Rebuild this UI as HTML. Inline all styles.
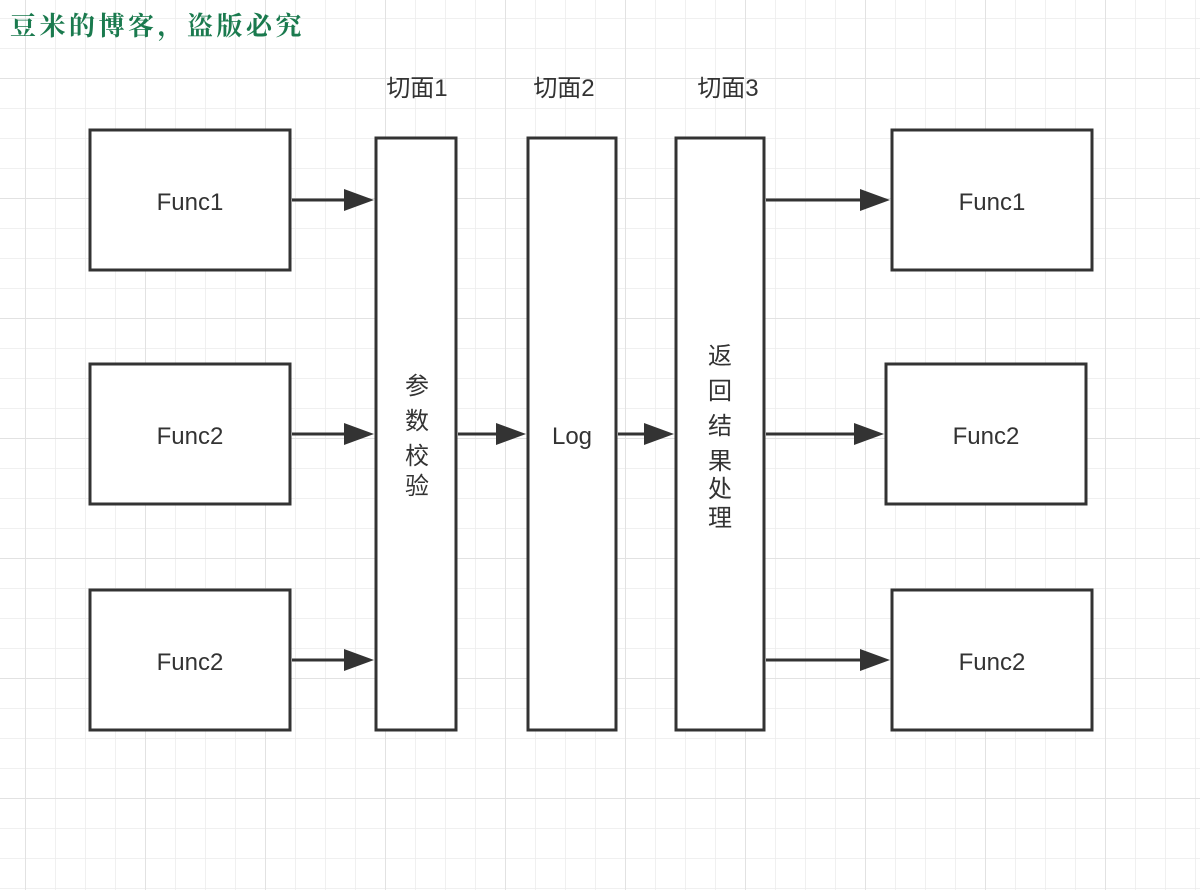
<!DOCTYPE html>
<html><head><meta charset="utf-8"><style>
body{margin:0;width:1200px;height:890px;overflow:hidden;background:#fff;}
</style></head><body>
<svg width="1200" height="890" xmlns="http://www.w3.org/2000/svg" font-family="Liberation Sans, Noto Sans CJK SC, sans-serif">
<defs>
<pattern id="g" x="25" y="18" width="30" height="30" patternUnits="userSpaceOnUse">
<path d="M0 0H30M0 0V30" stroke="#ececec" stroke-width="1.5" fill="none"/>
</pattern>
<pattern id="G" x="25" y="78" width="120" height="120" patternUnits="userSpaceOnUse">
<path d="M0 0H120M0 0V120" stroke="#e2e2e2" stroke-width="2" fill="none"/>
</pattern>
</defs>
<rect width="1200" height="890" fill="url(#g)"/>
<rect width="1200" height="890" fill="url(#G)"/>
<text x="10" y="35" font-family="Noto Serif CJK SC, serif" font-weight="bold" font-size="26" fill="#1a7a4e" letter-spacing="3.5">豆米的博客，盗版必究</text>
<g fill="#fff" stroke="#333" stroke-width="3">
<rect x="90" y="130" width="200" height="140"/>
<rect x="90" y="364" width="200" height="140"/>
<rect x="90" y="590" width="200" height="140"/>
<rect x="376" y="138" width="80" height="592"/>
<rect x="528" y="138" width="88" height="592"/>
<rect x="676" y="138" width="88" height="592"/>
<rect x="892" y="130" width="200" height="140"/>
<rect x="886" y="364" width="200" height="140"/>
<rect x="892" y="590" width="200" height="140"/>
</g>
<g stroke="#333" stroke-width="3">
<line x1="292" y1="200" x2="350" y2="200"/>
<line x1="292" y1="434" x2="350" y2="434"/>
<line x1="292" y1="660" x2="350" y2="660"/>
<line x1="458" y1="434" x2="500" y2="434"/>
<line x1="618" y1="434" x2="648" y2="434"/>
<line x1="766" y1="200" x2="864" y2="200"/>
<line x1="766" y1="434" x2="858" y2="434"/>
<line x1="766" y1="660" x2="864" y2="660"/>
</g>
<g fill="#333">
<polygon points="344,189 374,200 344,211"/>
<polygon points="344,423 374,434 344,445"/>
<polygon points="344,649 374,660 344,671"/>
<polygon points="496,423 526,434 496,445"/>
<polygon points="644,423 674,434 644,445"/>
<polygon points="860,189 890,200 860,211"/>
<polygon points="854,423 884,434 854,445"/>
<polygon points="860,649 890,660 860,671"/>
</g>
<g font-size="24" fill="#333" text-anchor="middle">
<text x="190" y="210">Func1</text>
<text x="190" y="444">Func2</text>
<text x="190" y="670">Func2</text>
<text x="992" y="210">Func1</text>
<text x="986" y="444">Func2</text>
<text x="992" y="670">Func2</text>
<text x="572" y="444">Log</text>
<text x="417" y="96">切面1</text>
<text x="564" y="96">切面2</text>
<text x="728" y="96">切面3</text>
<text x="417" y="394">参</text>
<text x="417" y="429">数</text>
<text x="417" y="464">校</text>
<text x="417" y="494">验</text>
<text x="720" y="364">返</text>
<text x="720" y="399">回</text>
<text x="720" y="434">结</text>
<text x="720" y="469">果</text>
<text x="720" y="497">处</text>
<text x="720" y="526">理</text>
</g>
</svg>
</body></html>
